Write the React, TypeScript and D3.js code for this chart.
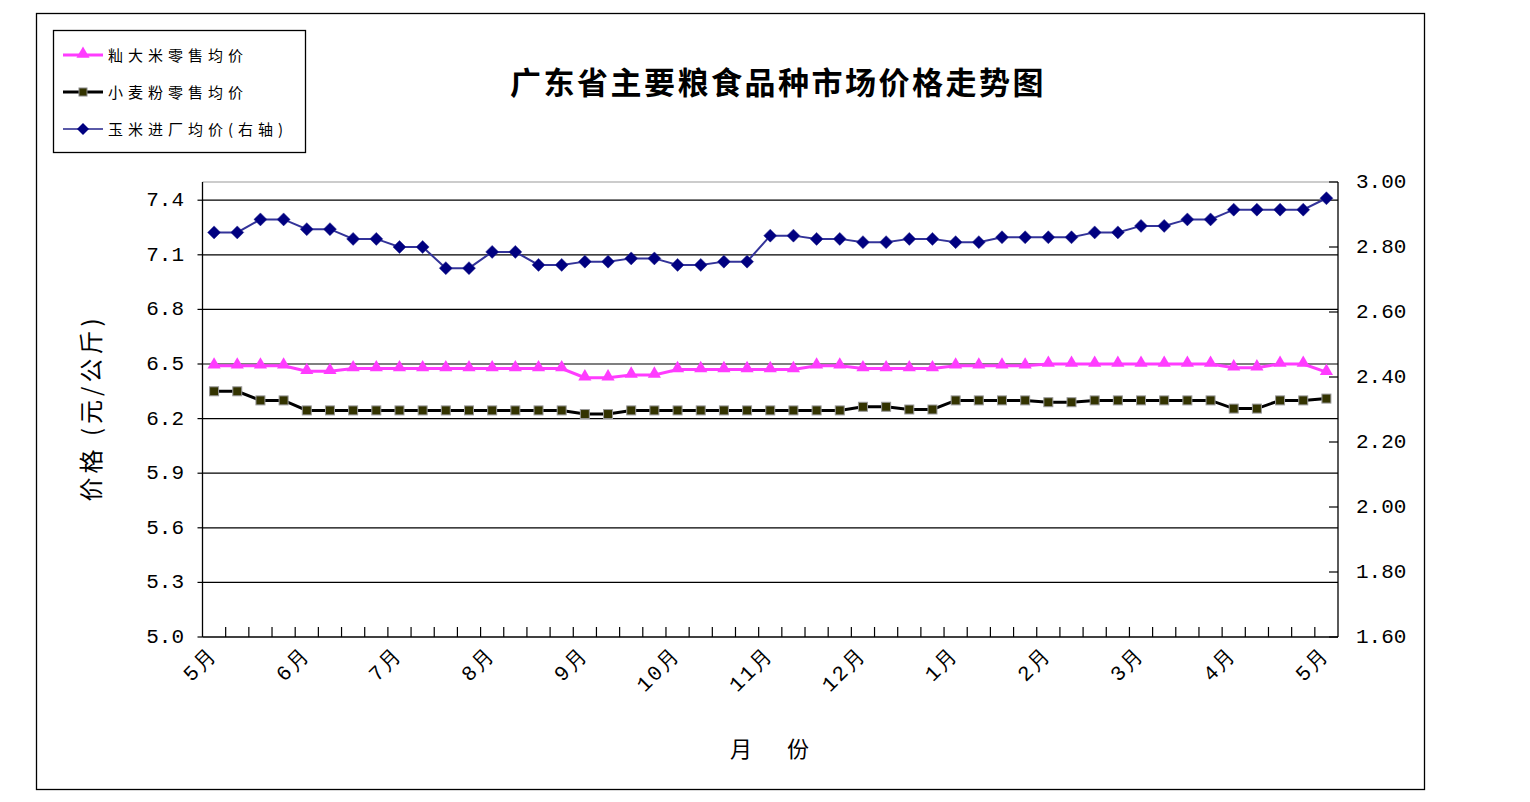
import React from "react";
import * as d3 from "d3";

// ---- data ----
const monthLabels = ["5月", "6月", "7月", "8月", "9月", "10月", "11月", "12月", "1月", "2月", "3月", "4月", "5月"];

const riceRetail = [
  6.49, 6.49, 6.49, 6.49, 6.46, 6.46, 6.475, 6.475, 6.475, 6.475,
  6.475, 6.475, 6.475, 6.475, 6.475, 6.475, 6.425, 6.425, 6.44, 6.44,
  6.47, 6.47, 6.47, 6.47, 6.47, 6.47, 6.49, 6.49, 6.475, 6.475,
  6.475, 6.475, 6.49, 6.49, 6.49, 6.49, 6.5, 6.5, 6.5, 6.5,
  6.5, 6.5, 6.5, 6.5, 6.48, 6.48, 6.5, 6.5, 6.455,
];

const flourRetail = [
  6.35, 6.35, 6.3, 6.3, 6.245, 6.245, 6.245, 6.245, 6.245, 6.245,
  6.245, 6.245, 6.245, 6.245, 6.245, 6.245, 6.225, 6.225, 6.245, 6.245,
  6.245, 6.245, 6.245, 6.245, 6.245, 6.245, 6.245, 6.245, 6.265, 6.265,
  6.25, 6.25, 6.3, 6.3, 6.3, 6.3, 6.29, 6.29, 6.3, 6.3,
  6.3, 6.3, 6.3, 6.3, 6.255, 6.255, 6.3, 6.3, 6.31,
];

const cornMill = [
  2.845, 2.845, 2.885, 2.885, 2.855, 2.855, 2.825, 2.825, 2.8, 2.8,
  2.735, 2.735, 2.785, 2.785, 2.745, 2.745, 2.755, 2.755, 2.765, 2.765,
  2.745, 2.745, 2.755, 2.755, 2.835, 2.835, 2.825, 2.825, 2.815, 2.815,
  2.825, 2.825, 2.815, 2.815, 2.83, 2.83, 2.83, 2.83, 2.845, 2.845,
  2.865, 2.865, 2.885, 2.885, 2.915, 2.915, 2.915, 2.915, 2.95,
];

const leftTicks = [5.0, 5.3, 5.6, 5.9, 6.2, 6.5, 6.8, 7.1, 7.4];
const rightTicks = [1.6, 1.8, 2.0, 2.2, 2.4, 2.6, 2.8, 3.0];

const seriesNames = ["籼大米零售均价", "小麦粉零售均价", "玉米进厂均价(右轴)"];
const titleText = "广东省主要粮食品种市场价格走势图";

// ---- layout ----
const W = 1530, H = 802;
const PL = 202.5, PR = 1338, PT = 182, PB = 637;
const RICE = "#FF3CFF";
const CORN_LINE = "#333399";
const CORN_PT = "#000080";
const FLOUR_PT = "#333300";
const numFont = "'Liberation Mono', 'DejaVu Sans Mono', monospace";
const cjkFont = "'Noto Sans CJK SC', 'Noto Sans', sans-serif";

export default function App() {
  const idx = cornMill.map((_, i) => i);
  const x = d3.scaleBand<number>().domain(idx).range([PL, PR]).paddingInner(0).paddingOuter(0);
  const cx = (i: number) => (x(i) as number) + x.bandwidth() / 2;
  const yL = d3.scaleLinear().domain([5.0, 7.5]).range([PB, PT]);
  const yR = d3.scaleLinear().domain([1.6, 3.0]).range([PB, PT]);

  const lineL = d3.line<number>().x((_, i) => cx(i)).y((d) => yL(d));
  const lineR = d3.line<number>().x((_, i) => cx(i)).y((d) => yR(d));

  const tri = d3.symbol().type(d3.symbolTriangle).size(75)();
  const dia = (px: number, py: number, r: number) =>
    `M${px},${py - r}L${px + r},${py}L${px},${py + r}L${px - r},${py}Z`;

  const legendY = [55, 92, 129];

  return (
    <svg width={W} height={H} style={{ position: "absolute", left: 0, top: 0, background: "#fff" }}>
      <rect x={0} y={0} width={W} height={H} fill="#fff" />
      {/* chart border */}
      <rect x={36.5} y={13.5} width={1388} height={776} fill="none" stroke="#000" strokeWidth={1.3} />

      {/* title */}
      <text x={778} y={94} textAnchor="middle" fontFamily={cjkFont} fontWeight={700} fontSize={31}
        letterSpacing={2.5} fill="#000">{titleText}</text>

      {/* legend */}
      <rect x={53.5} y={30.5} width={252} height={122} fill="#fff" stroke="#000" strokeWidth={1.3} />
      <g>
        <line x1={63} x2={103} y1={legendY[0]} y2={legendY[0]} stroke={RICE} strokeWidth={3} />
        <path d={tri} transform={`translate(83,${legendY[0] - 1})`} fill={RICE} />
        <line x1={63} x2={103} y1={legendY[1]} y2={legendY[1]} stroke="#000" strokeWidth={3} />
        <rect x={79} y={legendY[1] - 4} width={8} height={8} fill={FLOUR_PT} stroke="#888" strokeWidth={1} />
        <line x1={63} x2={103} y1={legendY[2]} y2={legendY[2]} stroke="#5a5aa8" strokeWidth={2} />
        <path d={dia(83, legendY[2], 6)} fill={CORN_PT} />
        {seriesNames.map((s, i) => (
          <text key={s} x={108} y={legendY[i] + 5.5} fontFamily={cjkFont} fontSize={15} letterSpacing={5} fill="#000">{s}</text>
        ))}
      </g>

      {/* gridlines */}
      {leftTicks.slice(1).map((t) => (
        <line key={"g" + t} x1={PL} x2={PR} y1={yL(t)} y2={yL(t)} stroke="#000" strokeWidth={1.2} />
      ))}
      <line x1={PL} x2={PR} y1={PT} y2={PT} stroke="#9a9a9a" strokeWidth={1.2} />

      {/* axes */}
      <line x1={PL} x2={PL} y1={PT} y2={PB} stroke="#000" strokeWidth={1.3} />
      <line x1={PR} x2={PR} y1={PT} y2={PB} stroke="#000" strokeWidth={1.3} />
      <line x1={PL} x2={PR} y1={PB} y2={PB} stroke="#000" strokeWidth={1.5} />

      {/* left ticks */}
      {leftTicks.map((t) => (
        <g key={"l" + t}>
          <line x1={PL - 5} x2={PL} y1={yL(t)} y2={yL(t)} stroke="#000" strokeWidth={1.2} />
          <text x={184} y={yL(t) + 6} textAnchor="end" fontFamily={numFont} fontSize={21} fill="#000">{t.toFixed(1)}</text>
        </g>
      ))}

      {/* right ticks */}
      {rightTicks.map((t) => (
        <g key={"r" + t}>
          <line x1={PR - 9} x2={PR} y1={yR(t)} y2={yR(t)} stroke="#000" strokeWidth={1.2} />
          <text x={1356} y={yR(t) + 6} textAnchor="start" fontFamily={numFont} fontSize={21} fill="#000">{t.toFixed(2)}</text>
        </g>
      ))}

      {/* x ticks between categories */}
      {idx.slice(1).map((i) => (
        <line key={"x" + i} x1={x(i) as number} x2={x(i) as number} y1={PB - 10} y2={PB} stroke="#000" strokeWidth={1.2} />
      ))}

      {/* x labels */}
      {monthLabels.map((m, k) => {
        const i = k * 4;
        const px = cx(i) + 4;
        const py = 656;
        return (
          <text key={"m" + k} x={px} y={py} textAnchor="end" fontFamily={numFont} fontSize={21}
            letterSpacing={2} transform={`rotate(-45 ${px} ${py})`} fill="#000">{m}</text>
        );
      })}

      {/* axis titles */}
      <text x={0} y={0} transform="translate(100 408) rotate(-90)" textAnchor="middle" fontFamily={cjkFont}
        fontSize={24} letterSpacing={4} fill="#000">价格 (元/公斤)</text>
      <text x={730} y={757} fontFamily={cjkFont} fontSize={22} letterSpacing={35} fill="#000">月份</text>

      {/* corn (right axis) */}
      <path d={lineR(cornMill) || ""} fill="none" stroke={CORN_LINE} strokeWidth={2} />
      {cornMill.map((v, i) => (
        <path key={"c" + i} d={dia(cx(i), yR(v), 6.5)} fill={CORN_PT} stroke="#2a2a90" strokeWidth={0.5} />
      ))}

      {/* flour */}
      <path d={lineL(flourRetail) || ""} fill="none" stroke="#000" strokeWidth={3} />
      {flourRetail.map((v, i) => (
        <rect key={"f" + i} x={cx(i) - 4.5} y={yL(v) - 4.5} width={9} height={9} fill={FLOUR_PT} stroke="#999" strokeWidth={1} />
      ))}

      {/* rice */}
      <path d={lineL(riceRetail) || ""} fill="none" stroke={RICE} strokeWidth={3} />
      {riceRetail.map((v, i) => (
        <path key={"r" + i} d={tri} transform={`translate(${cx(i)},${yL(v) - 1})`} fill={RICE} />
      ))}
    </svg>
  );
}
